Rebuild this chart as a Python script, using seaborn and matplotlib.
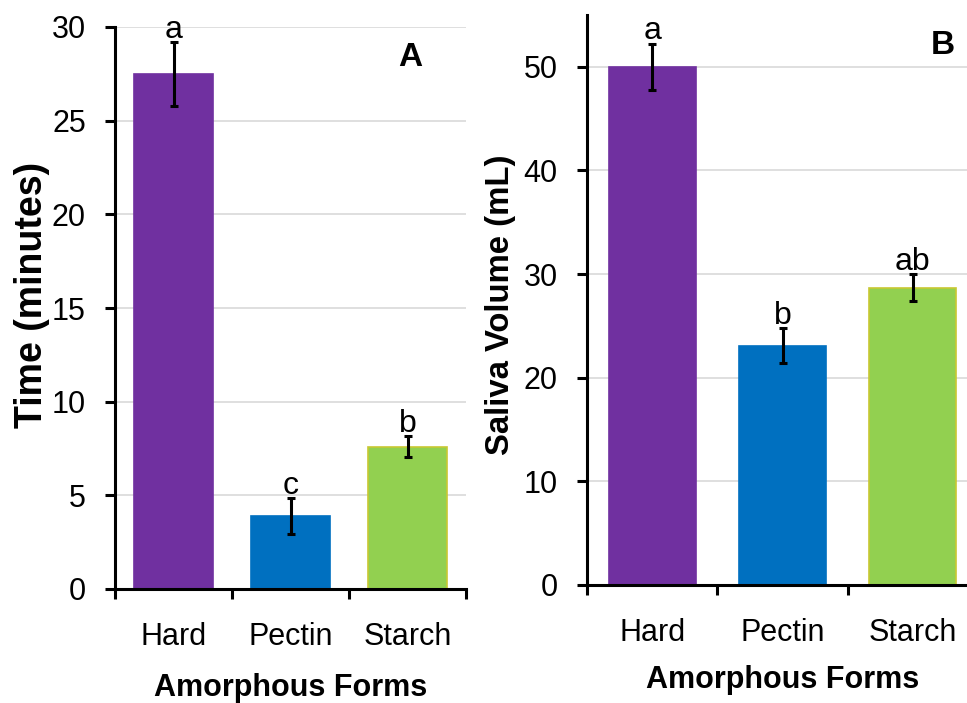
import numpy as np
import pandas as pd
import matplotlib
matplotlib.use("Agg")
import matplotlib.pyplot as plt
import seaborn as sns

# ---- data ----
categories = ["Hard", "Pectin", "Starch"]
time_mean = [27.5, 3.9, 7.6]
time_err = [1.7, 0.95, 0.55]
time_letters = ["a", "c", "b"]
saliva_mean = [50.0, 23.1, 28.7]
saliva_err = [2.25, 1.7, 1.3]
saliva_letters = ["a", "b", "ab"]
bar_colors = ["#7030A0", "#0070C0", "#92D050"]
edge_colors = ["#7030A0", "#0070C0", "#C8C832"]

sns.set_theme(style="white")
plt.rcParams["font.family"] = ["Liberation Sans", "DejaVu Sans"]
plt.rcParams["text.color"] = "black"
plt.rcParams["axes.labelcolor"] = "black"
plt.rcParams["xtick.color"] = "black"
plt.rcParams["ytick.color"] = "black"

fig = plt.figure(figsize=(9.67, 7.03), dpi=100)
W, H = 967, 703


def panel(rect_px, means, errs, letters, ylim, yticks, ylabel, tag, tag_px,
          ylabel_px, ylabel_size, xlabelpad):
    l, b, r, t = rect_px
    aw, ah = r - l, b - t
    ax = fig.add_axes([l / W, 1 - b / H, aw / W, ah / H])
    df = pd.DataFrame({"cat": categories, "val": means})
    sns.barplot(data=df, x="cat", y="val", hue="cat", palette=bar_colors,
                width=0.67, ax=ax, legend=False, zorder=2, saturation=1)
    for p, ec in zip(ax.patches, edge_colors):
        p.set_edgecolor(ec)
        p.set_linewidth(1.2)
    xs = np.arange(len(categories))
    ax.errorbar(xs, means, yerr=errs, fmt="none", ecolor="black",
                elinewidth=2.2, capsize=3, capthick=2.2, zorder=3)
    for x, m, e, s in zip(xs, means, errs, letters):
        ax.annotate(s, (x, m + e), xytext=(0, -2), textcoords="offset points",
                    ha="center", va="bottom", fontsize=23, color="black")
    ax.set_xlim(-0.5, 2.5)
    ax.set_ylim(*ylim)
    ax.set_yticks(yticks)
    ax.set_yticklabels([str(v) for v in yticks])
    ax.yaxis.grid(True, color="#d9d9d9", linewidth=1.2, zorder=0)
    ax.set_axisbelow(True)
    ax.set_xticks(xs)
    ax.set_xticklabels(categories)
    ax.set_xticks([-0.5, 0.5, 1.5, 2.5], minor=True)
    ax.tick_params(axis="x", which="major", bottom=True, length=0, pad=24,
                   labelsize=22)
    ax.tick_params(axis="x", which="minor", bottom=True, length=7, width=2.2,
                   direction="out", color="black")
    ax.tick_params(axis="y", which="major", left=True, length=7, width=2.2,
                   direction="out", color="black", pad=14, labelsize=22)
    for side in ["top", "right"]:
        ax.spines[side].set_visible(False)
    for side in ["left", "bottom"]:
        ax.spines[side].set_color("black")
        ax.spines[side].set_linewidth(2.2)
    ax.set_xlabel("Amorphous Forms", fontsize=22, fontweight="bold",
                  labelpad=xlabelpad)
    ax.set_ylabel(ylabel, fontsize=ylabel_size, fontweight="bold")
    ax.yaxis.set_label_coords((ylabel_px[0] - l) / aw, (b - ylabel_px[1]) / ah)
    ax.text((tag_px[0] - l) / aw, (b - tag_px[1]) / ah, tag,
            transform=ax.transAxes, fontsize=24, fontweight="bold",
            ha="center", va="center")
    return ax


ax1 = panel((115, 589, 466, 27), time_mean, time_err, time_letters,
            (0, 30), [0, 5, 10, 15, 20, 25, 30], "Time (minutes)", "A",
            (410, 58), (50, 295), 27, 15)
ax2 = panel((587, 585, 978, 15), saliva_mean, saliva_err, saliva_letters,
            (0, 55), [0, 10, 20, 30, 40, 50], "Saliva Volume (mL)", "B",
            (943, 45), (516, 305), 23.7, 12)

fig.savefig("out.png", dpi=100)
